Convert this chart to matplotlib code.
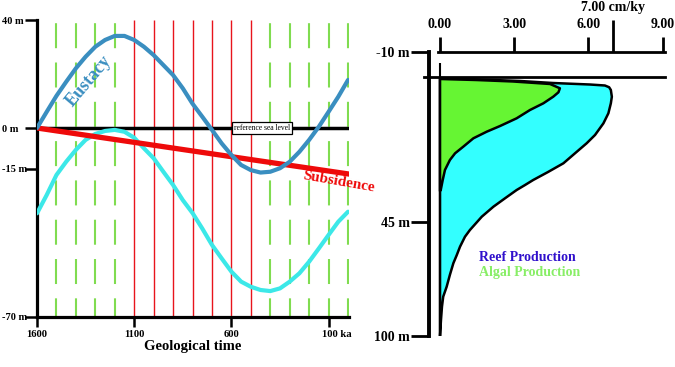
import numpy as np
import matplotlib
matplotlib.use('Agg')
import matplotlib.pyplot as plt
from matplotlib.transforms import ScaledTranslation

plt.rcParams['font.family'] = ['Liberation Serif', 'DejaVu Serif']
plt.rcParams['font.weight'] = 'bold'
plt.rcParams['lines.scale_dashes'] = False

# ---------------- left panel data ----------------
time_ka = [1600, 1550, 1500, 1450, 1400, 1350, 1300, 1250, 1200, 1150, 1100, 1050, 1000, 950, 900,
           850, 800, 750, 700, 650, 600, 550, 500, 450, 400, 350, 300, 250, 200, 150, 100, 50, 0]
eustacy_m = [0, 6, 11.9, 17.1, 22.1, 26.4, 30.1, 32.6, 34.1, 34.1, 32.6, 30.1, 27, 23.3, 19.6,
             14.7, 9, 4.2, -0.7, -5.7, -10, -13.7, -15.6, -16.5, -16.2, -14.9, -12.5, -8.8, -4.4,
             0.5, 6.0, 11.6, 17.8]
rsl_m = [-31.6, -24.8, -17.4, -12.5, -8.1, -4.4, -2.2, -1.1, -0.7, -1.4, -3.6, -7.5, -11.2, -16.2,
         -21.1, -26.7, -31.5, -37.2, -43.3, -48.3, -53.2, -56.9, -58.8, -60, -60.4, -59.4, -56.9,
         -53.8, -49.5, -44.6, -39.6, -34.7, -31]
subsidence_time_ka = [1600, 0]
subsidence_m = [0, -17]
green_marks_ka = [1500, 1400, 1300, 1200, 400, 300, 200, 100, 0]
red_marks_ka = [1100, 1000, 900, 800, 700, 600, 500]
time_ticks = [1600, 1100, 600, 100]
time_labels = ['1600', '1100', '600', '100 ka']
level_ticks = [40, 0, -15, -70]
level_labels = ['40 m', '0 m', '-15 m', '-70 m']

# ---------------- right panel data ----------------
rate_ticks = [0, 3, 6, 9]
rate_labels = ['0.00', '3.00', '6.00', '9.00']
max_rate = 7.0
depth_ticks = [-10, 45, 100]
depth_labels = ['-10 m', '45 m', '100 m']
sea_surface_depth = -1.9
zero_line_top = -6.4
reef_rate = [0, 1.62, 3.24, 4.57, 6.07, 6.67, 6.84, 6.91, 6.95, 6.91, 6.81, 6.61, 6.27, 5.93, 5.46,
             4.99, 4.37, 3.77, 3.44, 3.10, 2.63, 2.16, 1.69, 1.21, 1.01, 0.81, 0.68, 0.54, 0.40,
             0.27, 0.13, 0.08, 0.04, 0]
reef_depth = [-1.59, -1.10, -0.62, 0.03, 0.52, 0.84, 1.4, 2.29, 4.46, 6.60, 9.83, 13.07, 16.85,
              19.54, 22.77, 26.01, 28.82, 31.41, 33.03, 34.65, 37.33, 40.05, 43.28, 48.86, 52.1,
              56.9, 60.9, 64.9, 70.5, 76.2, 81.0, 85.8, 92.2, 100]
algal_rate = [0, 1.46, 2.95, 4.45, 4.85, 4.79, 4.58, 4.18, 3.64, 3.10, 2.43, 1.89, 1.35, 0.94,
              0.61, 0.40, 0.20, 0.11, 0.03, 0]
algal_depth = [-1.27, -0.94, -0.46, 0.35, 1.74, 3.04, 4.46, 6.60, 8.76, 11.45, 13.94, 15.78,
               17.92, 20.64, 22.77, 24.94, 28.17, 31.41, 34.65, 35]

BLUE = '#3a8ec0'
CYAN = '#3ce8e8'
RED = '#ee0a0a'

fig = plt.figure(figsize=(6.75, 3.67), dpi=100)

# ================= left panel =================
ax = fig.add_axes([37 / 675, 1 - 317 / 367, 312 / 675, 297 / 367])
ax.set_xlim(1600, -5)
ax.set_ylim(-70, 40)
ymin, ymax = ax.get_ylim()

ax.vlines(green_marks_ka, ymax, ymin, color='#80dc50', lw=1.5,
          linestyles=[(26, (18, 10.3))], zorder=1)
ax.vlines(red_marks_ka, ymin, ymax, color='#e8141c', lw=1.0, zorder=1)
ax.axhline(0, color='black', lw=2.5, zorder=2)
ax.plot(time_ka, rsl_m, color=CYAN, lw=3, solid_capstyle='round', solid_joinstyle='round', zorder=3)
ax.plot(subsidence_time_ka, subsidence_m, color=RED, lw=3.8, zorder=4)
ax.plot(time_ka, eustacy_m, color=BLUE, lw=3, solid_capstyle='round', solid_joinstyle='round', zorder=5)

ax.text(442, 0, 'reference sea level', fontsize=5.5, fontweight='normal', ha='center', va='center',
        zorder=6, bbox=dict(boxstyle='square,pad=0.25', fc='white', ec='black', lw=0.9))
ax.text(1332, 17.5, 'Eustacy', rotation=50, color=BLUE, fontsize=13, ha='center', va='center',
        rotation_mode='anchor', zorder=6)
ax.text(46, -20, 'Subsidence', rotation=-10, color=RED, fontsize=11, ha='center', va='center',
        rotation_mode='anchor', clip_on=False, zorder=6)

for s in ['top', 'right']:
    ax.spines[s].set_visible(False)
for s in ['left', 'bottom']:
    ax.spines[s].set_linewidth(2.3)
ax.set_yticks(level_ticks, level_labels)
ax.set_xticks(time_ticks, time_labels)
ax.tick_params(axis='y', length=8.6, width=1.8, labelsize=7.5, pad=16.5)
for lbl in ax.get_yticklabels():
    lbl.set_horizontalalignment('left')
ax.tick_params(axis='x', length=7.2, width=1.8, labelsize=7.7, pad=2)
last = ax.get_xticklabels()[-1]
last.set_transform(last.get_transform() + ScaledTranslation(0.08, 0, fig.dpi_scale_trans))
ax.set_xlabel('Geological time', fontsize=10.5, fontweight='bold', labelpad=1)
ax.patch.set_visible(False)

# ================= right panel =================
def fwd(d):
    d = np.asarray(d, float)
    return np.where(d <= 45, (d + 10) * 170 / 55, 170 + (d - 45) * 114 / 55)


def inv(p):
    p = np.asarray(p, float)
    return np.where(p <= 170, p * 55 / 170 - 10, 45 + (p - 170) * 55 / 114)


ax2 = fig.add_axes([429 / 675, 1 - 336 / 367, 236 / 675, 284 / 367])
ax2.set_yscale('function', functions=(fwd, inv))
ax2.set_ylim(100, -10)
ax2.set_xlim(-0.445, 9.1)

ax2.fill(reef_rate, reef_depth, facecolor='#33ffff', edgecolor='black', lw=1.8,
         joinstyle='round', zorder=2)
ax2.fill(algal_rate, algal_depth, facecolor='#66f533', edgecolor='black', lw=1.8,
         joinstyle='round', zorder=3)
ax2.vlines(0, zero_line_top, 100, color='black', lw=1.5, zorder=4)
ax2.axhline(sea_surface_depth, xmin=-0.02, xmax=1, color='black', lw=2, clip_on=False, zorder=4)

ax2.text(1.58, 61.9, 'Reef Production', color='#3010cc', fontsize=10, va='center')
ax2.text(1.58, 69.6, 'Algal Production', color='#88ee66', fontsize=10, va='center')

for s in ['bottom', 'right']:
    ax2.spines[s].set_visible(False)
ax2.spines['left'].set_linewidth(2.8)
ax2.spines['top'].set_linewidth(2.0)
ax2.spines['top'].set_bounds(-0.1, 9.1)
ax2.xaxis.tick_top()
ax2.set_xticks(rate_ticks, rate_labels)
ax2.set_xticks([max_rate], ['7.00 cm/ky'], minor=True)
ax2.xaxis.set_ticks_position('top')
ax2.tick_params(axis='x', which='major', length=11, width=2, pad=4, labelsize=10)
ax2.tick_params(axis='x', which='minor', length=23, width=2, pad=4, labelsize=10)
ax2.set_yticks(depth_ticks, depth_labels)
ax2.yaxis.set_minor_locator(plt.NullLocator())
ax2.tick_params(axis='y', length=13, width=2, pad=1, labelsize=10)
ax2.patch.set_visible(False)

fig.savefig('out.png', dpi=100)
